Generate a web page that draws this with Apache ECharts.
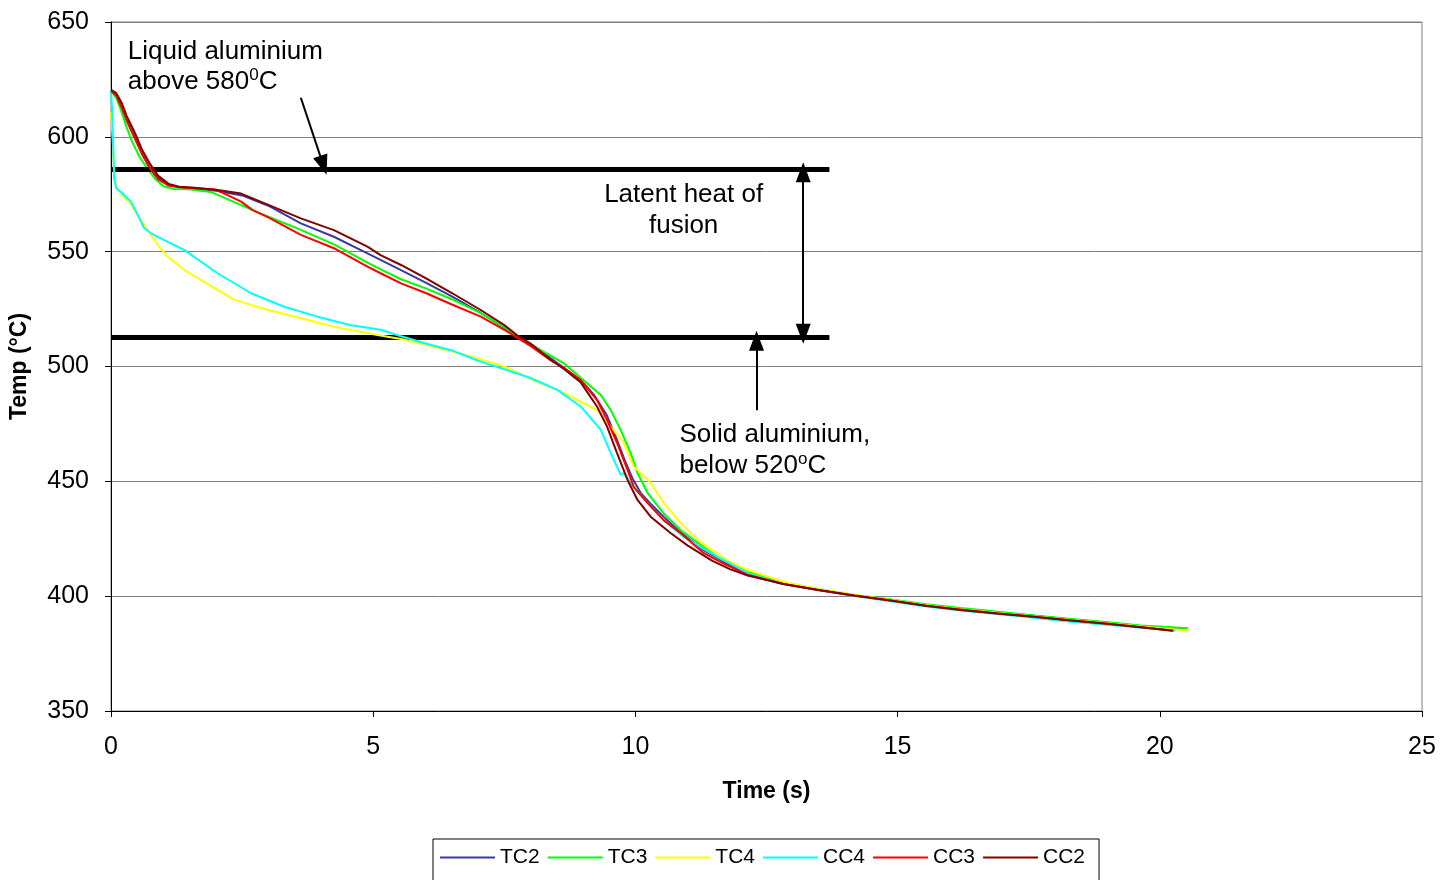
<!DOCTYPE html>
<html><head><meta charset="utf-8">
<script src="https://cdn.jsdelivr.net/npm/echarts@6/dist/echarts.min.js"></script>
<style>html,body{margin:0;padding:0;background:#fff}#c{width:1454px;height:880px}</style>
</head><body><div id="c"></div>
<script>
const seriesNames = ['TC2', 'TC3', 'TC4', 'CC4', 'CC3', 'CC2'];
const seriesColors = ['#3A3A9C', '#00FF00', '#FFFF00', '#00FFFF', '#FF0000', '#800000'];

const tc2 = [[0,620],[0.1,618.5],[0.2,613.5],[0.3,607.5],[0.45,600],[0.6,592.5],[0.75,586],[0.9,582],[1.1,579],[1.3,578],[1.6,577.5],[2.0,576.5],[2.5,574.5],[3.0,570],[3.62,562.3],[4.25,556.5],[4.89,549.3],[5.14,546.4],[5.53,542],[6.0,536.5],[6.5,530.5],[7.05,523.3],[7.5,516.8],[7.75,513],[8.3,505],[8.63,499.5],[8.96,494],[9.2,488],[9.45,479],[9.65,468],[9.8,459],[9.95,451],[10.1,445],[10.3,440],[10.54,434.5],[10.86,427.8],[11.3,420],[11.7,414.8],[12.14,409.5],[12.82,405.5],[13.5,402.8],[14.18,400.3],[14.8,398.6],[15.54,396.2],[16.2,394.5],[16.9,393],[17.6,391.5],[18.27,390],[19.0,388.5],[19.63,387],[20.45,385.8]];
const tc3 = [[0,620],[0.1,617],[0.2,611],[0.3,604],[0.4,598],[0.55,591],[0.7,586],[0.85,581.5],[1.0,578.5],[1.2,577.3],[1.5,577.2],[1.9,576],[2.48,570.3],[3.0,565.2],[3.62,559.5],[4.25,553.2],[4.89,545.2],[5.14,542.3],[5.53,538],[6.0,534],[6.5,529.3],[7.05,523.2],[7.5,517],[7.75,513.3],[8.2,507],[8.63,501.5],[9.01,494],[9.34,487.6],[9.53,481],[9.72,472.3],[9.91,462.3],[10.04,453.6],[10.23,445],[10.54,436],[10.86,428.8],[11.3,421.4],[11.56,417],[12.14,410.5],[12.82,405.8],[13.5,403],[14.18,400.5],[14.8,398.8],[15.54,396.5],[16.2,394.8],[16.9,393.2],[17.6,391.6],[18.27,390.2],[19.0,388.6],[19.63,387.2],[20.54,386]];
const tc4 = [[0,611],[0.03,600],[0.06,585],[0.1,578],[0.2,575],[0.38,570.5],[0.57,563.8],[0.89,553],[1.08,547.8],[1.4,542],[1.71,537.7],[2.35,529],[2.99,524.6],[3.62,521],[4.25,517.3],[5.08,513.7],[5.53,512],[6.0,509.5],[6.5,506.5],[7.0,503.5],[7.5,500],[8.0,494.5],[8.63,488.5],[9.01,484],[9.27,481],[9.53,473.8],[9.78,466.7],[9.97,456.3],[10.1,453.6],[10.29,449.3],[10.54,440.6],[10.86,431.9],[11.26,423.2],[11.8,415],[12.14,411.4],[12.82,406.3],[13.5,403],[14.18,400.6],[14.8,398.6],[15.54,396],[16.2,394.3],[16.9,392.7],[17.6,391.2],[18.27,389.7],[19.0,388.2],[19.63,386.8],[20.54,385]];
const cc4 = [[0,620],[0.02,612],[0.04,598],[0.06,582],[0.1,577.5],[0.19,576],[0.38,571.8],[0.51,566],[0.63,560.3],[0.76,558],[1.08,554.3],[1.4,550.7],[2.03,540.6],[2.67,531.9],[3.3,526],[3.94,521.7],[4.57,518],[5.14,516],[5.53,513.2],[6.0,510],[6.5,507],[7.0,502.5],[7.5,498.8],[8.0,495],[8.51,489.8],[8.96,482.5],[9.34,472.4],[9.53,462.3],[9.72,452.8],[9.78,453.6],[9.97,447.5],[10.23,440.6],[10.54,433.2],[10.92,425.8],[11.43,418.8],[12.14,410],[12.82,405.3],[13.5,402.6],[14.18,400.1],[14.8,398],[15.54,395.5],[16.2,393.8],[16.9,392.2],[17.6,390.6],[18.27,389],[19.0,387.6],[19.63,386.2],[20.3,385]];
const cc3 = [[0,620],[0.1,618],[0.2,613],[0.3,607],[0.45,599.5],[0.6,592],[0.75,586],[0.9,581.5],[1.1,578.8],[1.3,578],[1.6,577.6],[2.0,577],[2.48,571.8],[2.7,568.1],[2.99,565],[3.62,557.3],[4.25,551.5],[4.89,543.5],[5.14,540.6],[5.53,536.2],[6.0,532],[6.5,527],[7.05,521.7],[7.5,516],[7.75,512.5],[8.0,509],[8.38,502.8],[8.63,499.5],[8.96,494],[9.27,485.4],[9.46,476.7],[9.65,466.7],[9.85,455],[9.97,447.5],[10.23,440.6],[10.54,433],[10.86,427.5],[11.3,418.8],[11.7,414],[12.14,409.3],[12.82,405.3],[13.5,402.6],[14.18,400.2],[14.8,398.3],[15.54,395.8],[16.2,394.2],[16.9,392.5],[17.6,391],[18.27,389.5],[19.0,388],[19.63,386.6],[20.26,384.8]];
const cc2 = [[0,620.5],[0.1,619],[0.2,615],[0.3,609],[0.45,602],[0.6,594],[0.75,588],[0.9,583],[1.1,579.5],[1.3,578.3],[1.6,577.8],[2.0,577],[2.48,575.3],[2.99,570.5],[3.62,564.5],[4.25,559.4],[4.89,552.2],[5.14,548.5],[5.53,544.2],[6.0,538.5],[6.5,532],[7.05,524.6],[7.5,518],[7.75,513.5],[8.0,510],[8.38,503],[8.63,499],[8.96,493],[9.27,482.5],[9.46,473.8],[9.65,462.3],[9.85,450.6],[10.04,441.9],[10.29,434.6],[10.67,427.5],[11.0,422],[11.46,415.5],[11.8,411.8],[12.14,409],[12.82,405.3],[13.5,402.7],[14.18,400.3],[14.8,398.3],[15.54,395.8],[16.2,394],[16.9,392.5],[17.6,391],[18.27,389.5],[19.0,388],[19.63,386.5],[20.24,385]];
const seriesData = [tc2, tc3, tc4, cc4, cc3, cc2];

const xMin = 0, xMax = 25, xStep = 5;
const yMin = 350, yMax = 650, yStep = 50;

// annotation values (data coordinates)
const levelTemps = [586, 512.8];
const levelStart = 0;
const levelEnd = 13.7;
const arrowLiquid = [[3.62, 617], [4.05, 587.6]];
const arrowLatent = [[13.2, 584.6], [13.2, 514.3]];
const arrowSolid = [[12.31, 481], [12.31, 511.2]];
const labelLiquidPos = [0.32, 642.5];
const labelLatentPos = [10.92, 581.3];
const labelSolidPos = [10.84, 475.8];

const FONT = "'Liberation Sans', Arial, sans-serif";

const chart = echarts.init(document.getElementById('c'), null, {renderer: 'canvas'});

const series = seriesNames.map((n, i) => ({
  name: n, type: 'line', data: seriesData[i], symbol: 'none', smooth: false,
  lineStyle: {color: seriesColors[i], width: 2}, itemStyle: {color: seriesColors[i]},
  animation: false, z: 3 + i
}));

const head = {symbol: 'triangle', symbolSize: [15, 20]};
series.push({
  name: 'annot', type: 'line', data: [], symbol: 'none', animation: false, z: 20,
  markLine: {
    silent: true, animation: false,
    label: {show: false},
    data: [
      ...levelTemps.map(v => [
        {coord: [levelStart, v], symbol: 'none', lineStyle: {width: 5, color: '#000', type: 'solid'}},
        {coord: [levelEnd, v], symbol: 'none'}
      ]),
      [{coord: arrowLiquid[0], symbol: 'none'}, Object.assign({coord: arrowLiquid[1]}, head)],
      [Object.assign({coord: arrowLatent[0]}, head), Object.assign({coord: arrowLatent[1]}, head)],
      [{coord: arrowSolid[0], symbol: 'none'}, Object.assign({coord: arrowSolid[1]}, head)]
    ],
    lineStyle: {color: '#000', width: 2, type: 'solid'}
  }
});

chart.setOption({
  animation: false,
  backgroundColor: '#fff',
  textStyle: {fontFamily: FONT},
  grid: {left: 110, right: 32, top: 22, bottom: 169, show: true, borderColor: '#808080', borderWidth: 1, containLabel: false},
  xAxis: {
    type: 'value', min: xMin, max: xMax, interval: xStep,
    name: 'Time (s)', nameLocation: 'middle', nameGap: 69,
    nameTextStyle: {fontFamily: FONT, fontSize: 23, fontWeight: 'bold', color: '#000'},
    axisLine: {show: true, onZero: false, lineStyle: {color: '#000', width: 1}},
    axisTick: {show: true, inside: false, length: 6, lineStyle: {color: '#000'}},
    axisLabel: {fontFamily: FONT, fontSize: 25, color: '#000', margin: 24},
    splitLine: {show: false}
  },
  yAxis: {
    type: 'value', min: yMin, max: yMax, interval: yStep,
    name: 'Temp (\u00B0C)', nameLocation: 'middle', nameGap: 80, nameRotate: 90,
    nameTextStyle: {fontFamily: FONT, fontSize: 23, fontWeight: 'bold', color: '#000'},
    axisLine: {show: true, onZero: false, lineStyle: {color: '#000', width: 1}},
    axisTick: {show: true, inside: false, length: 6, lineStyle: {color: '#000'}},
    axisLabel: {fontFamily: FONT, fontSize: 25, color: '#000', margin: 22},
    splitLine: {show: true, lineStyle: {color: '#808080', width: 1}}
  },
  legend: {
    data: seriesNames,
    left: 433, top: 839,
    orient: 'horizontal',
    padding: [8, 14, 14, 7],
    borderColor: '#000', borderWidth: 1,
    itemWidth: 55, itemHeight: 14, itemGap: 8,
    textStyle: {fontFamily: FONT, fontSize: 21, color: '#000'},
    icon: 'path://M0,6 L55,6 L55,8 L0,8 Z'
  },
  series: series
});

function px(p) { return chart.convertToPixel({gridIndex: 0}, p); }
const pL = px(labelLiquidPos), pT = px(labelLatentPos), pS = px(labelSolidPos);
const rich = {
  n: {fontFamily: FONT, fontSize: 26, fill: '#000', lineHeight: 30},
  s: {fontFamily: FONT, fontSize: 17, fill: '#000', lineHeight: 30, verticalAlign: 'top', padding: [0, 0, 12, 0]}
};
chart.setOption({
  graphic: [
    {type: 'text', left: pL[0], top: pL[1], z: 100, style: {text: '{n|Liquid aluminium}\n{n|above 580}{s|0}{n|C}', rich: rich, fill: '#000', font: "26px " + FONT}},
    {type: 'text', x: pT[0], y: pT[1], z: 100, style: {text: 'Latent heat of\nfusion', align: 'center', verticalAlign: 'top', fill: '#000', font: "26px " + FONT, lineHeight: 31}},
    {type: 'text', left: pS[0], top: pS[1], z: 100, style: {text: '{n|Solid aluminium,}\n{n|below 520}{s|o}{n|C}', rich: {n: Object.assign({}, rich.n, {lineHeight: 31}), s: Object.assign({}, rich.s, {lineHeight: 31})}, fill: '#000', font: "26px " + FONT}}
  ]
});
</script></body></html>
